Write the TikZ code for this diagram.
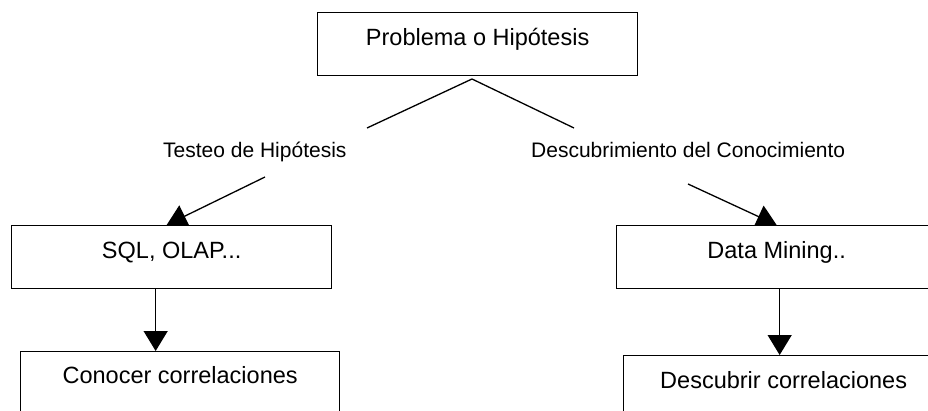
\documentclass[tikz,border=0pt]{standalone}
\usepackage{fontspec}
\setmainfont{Liberation Sans}
\usetikzlibrary{arrows.meta}
\begin{document}
\begin{tikzpicture}[x=1pt,y=-1pt,
  box/.style={draw, fill=white, line width=1.3pt, inner sep=0pt, minimum width=320pt,
    font=\fontsize{23.5}{28}\selectfont, text height=33pt, text depth=30pt, anchor=north west},
  lbl/.style={inner sep=0pt, anchor=base west, font=\fontsize{21}{25}\selectfont},
  wire/.style={line width=1.3pt},
  arr/.style={line width=1.3pt, -{Triangle[length=20pt,width=24pt]}}]
  \useasboundingbox (0,0) rectangle (928,411);
  \clip (0,0) rectangle (928,411);
  \fill[white] (0,0) rectangle (928,411);

  % free ends of the branching lines
  \coordinate (apex) at (472,79);
  \coordinate (tl) at (367,128);
  \coordinate (tr) at (574,128);
  \coordinate (l1) at (265,177);
  \coordinate (r1) at (688,184);

  % branch labels
  \node[lbl] (test) at (163,158) {Testeo de Hipótesis};
  \node[lbl] (desc) at (531,158) {Descubrimiento del Conocimiento};

  % boxes (defined first so arrows can reference them, redrawn on top below)
  \node[box] (prob) at (317,12) {Problema o Hipótesis};
  \node[box] (sql) at (11,225) {SQL, OLAP...};
  \node[box] (dm) at (616,225) {Data Mining..};
  \node[box, minimum width=319pt, text height=32pt, text depth=31pt] (con) at (20,351) {Conocer correlaciones};
  \node[box] (des) at (623,355) {Descubrir correlaciones};

  % connectors
  \draw[wire] (tl) -- (apex) -- (tr);
  \draw[arr] (l1) -- ([xshift=-5pt]sql.north);
  \draw[arr] (r1) -- (dm.north);
  \draw[arr] ([xshift=-16pt]sql.south) -- ([xshift=-16pt]sql.south |- con.north);
  \draw[arr] ([xshift=3pt]dm.south) -- ([xshift=3pt]dm.south |- des.north);

  % boxes on top, hiding the buried part of the arrow heads
  \node[box] at (317,12) {Problema o Hipótesis};
  \node[box] at (11,225) {SQL, OLAP...};
  \node[box] at (616,225) {Data Mining..};
  \node[box, minimum width=319pt, text height=32pt, text depth=31pt] at (20,351) {Conocer correlaciones};
  \node[box] at (623,355) {Descubrir correlaciones};
\end{tikzpicture}
\end{document}
